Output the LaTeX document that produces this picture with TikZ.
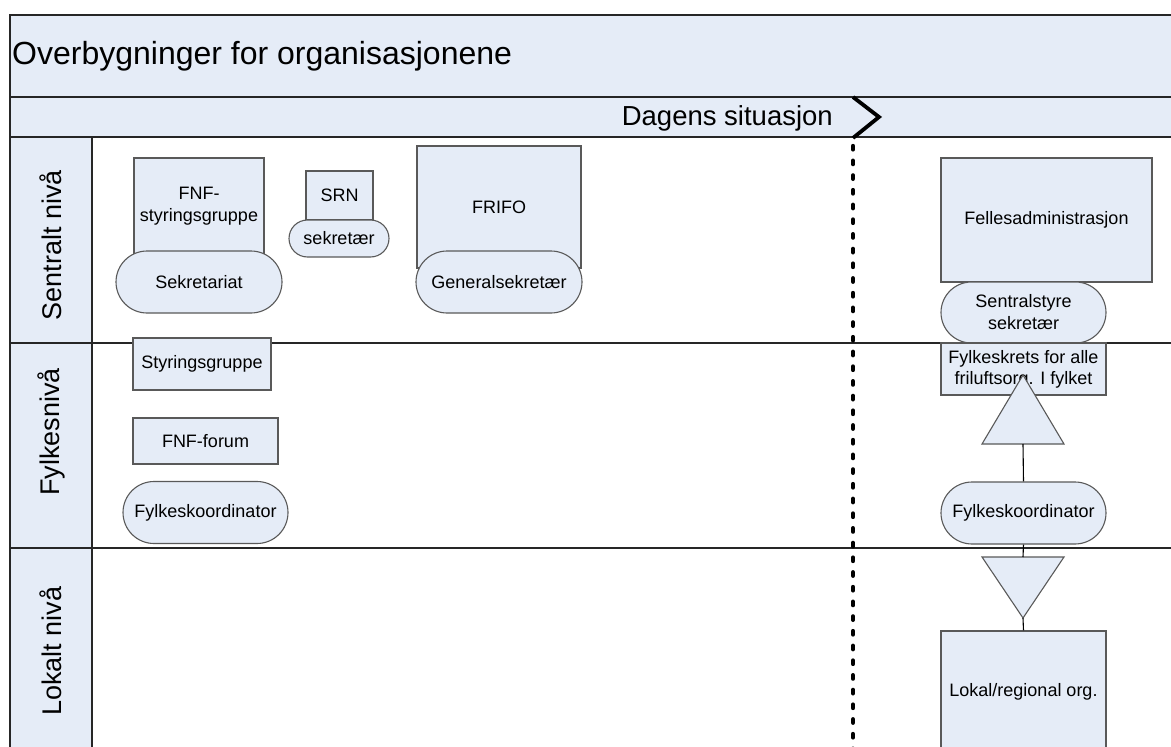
\documentclass[tikz,border=0pt]{standalone}
\usepackage{fontspec}
\setmainfont{Liberation Sans}
\begin{document}
\begin{tikzpicture}[x=1pt,y=-1pt,
  lane/.style={draw=black!85,line width=1.6pt},
  box/.style={draw=black!65,line width=1.1pt,fill=boxfill,inner sep=0pt,
    font=\fontsize{18}{22}\selectfont,align=center},
  pill/.style={box,rounded corners=#1},
  link/.style={draw=black,line width=1.1pt},
  lbl/.style={font=\fontsize{27}{30}\selectfont,inner sep=0pt}]
\definecolor{boxfill}{HTML}{E5ECF7}
\useasboundingbox (0,0) rectangle (1171,747);
\clip (0,0) rectangle (1171,747);
% bands
\fill[boxfill] (10,15) rectangle (1171,137);
\fill[boxfill] (10,137) rectangle (92,747);
\draw[lane] (1171,15) -- (10,15) -- (10,747);
\draw[lane] (10,97) -- (1171,97);
\draw[lane] (10,137) -- (1171,137);
\draw[lane] (92,137) -- (92,747);
\draw[lane] (10,343) -- (1171,343);
\draw[lane] (10,548) -- (1171,548);
% texts of bands
\node[lbl,font=\fontsize{32}{35}\selectfont,anchor=west] (title) at (12,56) {Overbygninger for organisasjonene};
\node[lbl,font=\fontsize{27.5}{30}\selectfont,anchor=east] (dagens) at (833,118) {Dagens situasjon};
\node[lbl,rotate=90] (sent) at (51,245) {Sentralt nivå};
\node[lbl,rotate=90] (fylk) at (51,432) {Fylkesnivå};
\node[lbl,rotate=90] (lok) at (51,651) {Lokalt nivå};
% time marker
\coordinate (chA) at (853,97);
\coordinate (chB) at (879,117);
\coordinate (chC) at (853,138);
\coordinate (dotEnd) at (853,760);
\draw[line width=3.8pt,line join=miter] (chA) -- (chB) -- (chC);
\draw[line width=4.4pt,line cap=round,dash pattern=on 3.4pt off 11.3pt] (853,146) -- (dotEnd);
% Sentralt nivå
\node[box,minimum width=130,minimum height=97] (fnfs) at (199,206.5) {FNF-\\styringsgruppe};
\node[pill=31,minimum width=166,minimum height=62] (sekr) at (199,282) {Sekretariat};
\node[box,minimum width=67,minimum height=49] (srn) at (339.5,195.5) {SRN};
\node[pill=18.5,minimum width=100,minimum height=37] (srnsek) at (339,238.5) {sekretær};
\node[box,minimum width=164,minimum height=122] (frifo) at (499,207) {FRIFO};
\node[pill=31,minimum width=166,minimum height=62] (gen) at (499,282) {Generalsekretær};
\node[box,minimum width=211,minimum height=124] (felles) at (1046.5,220) {Fellesadministrasjon};
\node[pill=30.5,minimum width=165,minimum height=61] (sentral) at (1023.5,312.5) {Sentralstyre\\sekretær};
% Fylkesnivå
\node[box,minimum width=138,minimum height=52] (styr) at (202,364) {Styringsgruppe};
\node[box,minimum width=145,minimum height=46] (forum) at (205.5,441) {FNF-forum};
\node[pill=31,minimum width=165,minimum height=62] (koordL) at (205.5,512.5) {Fylkeskoordinator};
\node[box,minimum width=165,minimum height=52,font=\fontsize{18}{21}\selectfont] (krets) at (1023.5,369) {Fylkeskrets for alle\\friluftsorg. I fylket};
\node[pill=31,minimum width=165,minimum height=62] (koordR) at (1023.5,513) {Fylkeskoordinator};
% Lokalt nivå
\node[box,minimum width=165,minimum height=122] (lokal) at (1023.5,692) {Lokal/regional org.};
% triangles
\coordinate (tuApex) at (1023,375);
\coordinate (tuBase) at (1023,444);
\coordinate (tdTop) at (1023,557);
\coordinate (tdApex) at (1023,618);
\draw[box] (tuApex) -- (1064,444) -- (982,444) -- cycle;
\draw[box] (982,557) -- (1064,557) -- (tdApex) -- cycle;
% connectors
\draw[link] (tuBase) -- (koordR.north);
\draw[link] (koordR.south) -- (tdTop);
\draw[link] (tdApex) -- (lokal.north);
\end{tikzpicture}
\end{document}
